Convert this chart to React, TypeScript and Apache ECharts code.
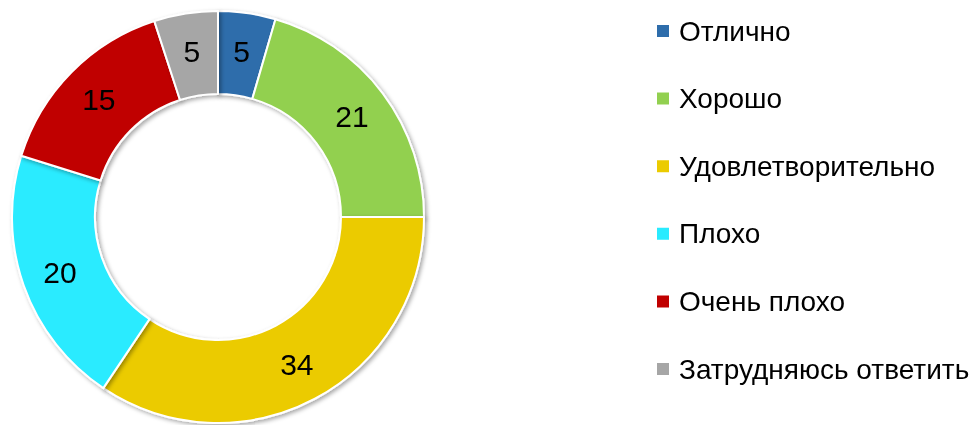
import React, { useEffect, useRef } from "react";
import * as echarts from "echarts";

const categories = ["Отлично", "Хорошо", "Удовлетворительно", "Плохо", "Очень плохо", "Затрудняюсь ответить"];
// shares; labels show them rounded to whole numbers
const values = [4.5, 20.5, 34.4, 20.4, 15.2, 5.0];
const colors = ["#2E6DAB", "#92D050", "#EBCB00", "#29EBFF", "#C00000", "#A6A6A6"];

export default function App() {
  const ref = useRef<HTMLDivElement>(null);
  useEffect(() => {
    if (!ref.current) return;
    const chart = echarts.init(ref.current, null, { renderer: "svg" });
    chart.setOption({
      animation: false,
      color: colors,
      legend: {
        orient: "vertical",
        left: 655,
        top: 16,
        padding: 0,
        icon: "rect",
        itemWidth: 14,
        itemHeight: 14,
        itemGap: 37.6,
        selectedMode: false,
        textStyle: {
          fontFamily: "Liberation Sans",
          fontSize: 28,
          lineHeight: 30,
          color: "#000",
          padding: [0, 0, 0, 4],
        },
        data: categories,
      },
      series: [
        {
          type: "pie",
          center: [218, 217],
          radius: [123, 206],
          startAngle: 90,
          clockwise: true,
          avoidLabelOverlap: false,
          itemStyle: {
            borderColor: "#fff",
            borderWidth: 2,
            shadowBlur: 4,
            shadowColor: "rgba(0,0,0,0.35)",
            shadowOffsetX: 2,
            shadowOffsetY: 2,
          },
          label: {
            show: true,
            position: "inside",
            formatter: (p: any) => String(Math.round(p.value)),
            fontFamily: "Liberation Sans",
            fontSize: 30,
            color: "#000",
          },
          labelLine: { show: false },
          emphasis: { disabled: true },
          data: categories.map((name, i) => ({ name, value: values[i] })),
        },
      ],
    });
    return () => chart.dispose();
  }, []);
  return <div ref={ref} style={{ position: "fixed", left: 0, top: 0, width: 980, height: 425 }} />;
}
